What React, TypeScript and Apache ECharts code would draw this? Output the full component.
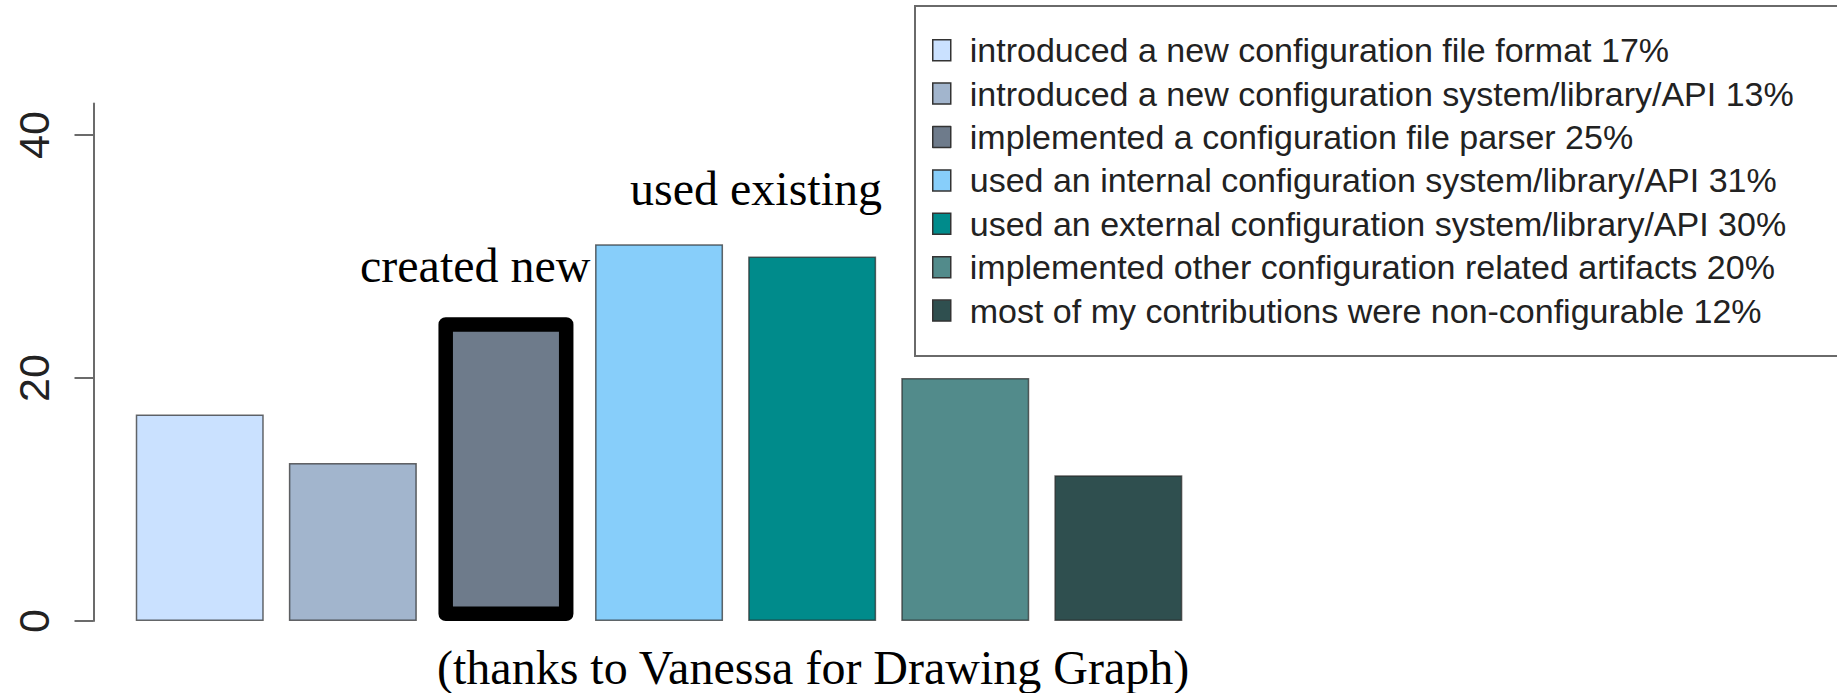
import React, { useEffect, useRef } from "react";
import * as echarts from "echarts";

const legendLabels = [
  "introduced a new configuration file format 17%",
  "introduced a new configuration system/library/API 13%",
  "implemented a configuration file parser 25%",
  "used an internal configuration system/library/API 31%",
  "used an external configuration system/library/API 30%",
  "implemented other configuration related artifacts 20%",
  "most of my contributions were non-configurable 12%",
];
const values = [17, 13, 25, 31, 30, 20, 12];
const colors = ["#CAE1FF", "#A2B5CD", "#6E7B8B", "#87CEFA", "#008B8B", "#528B8B", "#2F4F4F"];
const yTicks = [0, 20, 40];
const highlightIndex = 2;
const annotationTexts = ["created new", "used existing", "(thanks to Vanessa for Drawing Graph)"];

export default function App() {
  const ref = useRef<HTMLDivElement>(null);
  useEffect(() => {
    document.body.style.margin = "0";
    document.body.style.overflow = "hidden";
    const chart = echarts.init(ref.current!, undefined, { renderer: "svg" });
    const series = legendLabels.map((name, i) => {
      const hl = i === highlightIndex;
      return {
        type: "bar",
        name,
        stack: hl ? undefined : "all",
        xAxisIndex: hl ? 1 : 0,
        barWidth: hl ? 135 : 128,
        itemStyle: hl
          ? { color: colors[i], borderColor: "#000", borderWidth: 14.5, borderJoin: "round" }
          : { color: colors[i], borderColor: "rgba(40,40,40,0.7)", borderWidth: 1.5 },
        data: values.map((v, j) => (j === i ? v : null)),
      };
    });
    chart.setOption({
      animation: false,
      backgroundColor: "#fff",
      grid: { left: 123.2, width: 1071.7, top: 103.4, height: 517.6, outerBoundsMode: "none" },
      xAxis: [
        { type: "category", data: legendLabels, show: false },
        { type: "category", data: legendLabels, show: false },
      ],
      yAxis: {
        type: "value",
        min: 0,
        max: 42.6,
        interval: 20,
        offset: 29.7,
        splitLine: { show: false },
        axisLine: { show: true, lineStyle: { color: "#6b6b6b", width: 2 } },
        axisTick: { show: true, length: 19, lineStyle: { color: "#6b6b6b", width: 2 }, customValues: yTicks },
        axisLabel: {
          rotate: 90,
          fontSize: 43,
          fontFamily: "Liberation Sans",
          color: "#222",
          margin: 38,
          customValues: yTicks,
        },
      },
      legend: {
        orient: "vertical",
        left: 915,
        top: 6,
        padding: [27.2, 58, 28.5, 17],
        itemGap: 9.4,
        itemWidth: 18,
        itemHeight: 21,
        icon: "rect",
        selectedMode: false,
        borderColor: "#6a6a6a",
        borderWidth: 2,
        itemStyle: { borderColor: "#333", borderWidth: 1.5 },
        textStyle: {
          fontSize: 34,
          fontFamily: "Liberation Sans",
          color: "#222",
          lineHeight: 30,
          padding: [0, 0, 0, 14],
        },
        data: legendLabels,
      },
      graphic: [
        { type: "text", x: 360, y: 265, style: { text: annotationTexts[0], fontSize: 48, fontFamily: "Liberation Serif", fill: "#000", verticalAlign: "middle" } },
        { type: "text", x: 630, y: 188, style: { text: annotationTexts[1], fontSize: 48, fontFamily: "Liberation Serif", fill: "#000", verticalAlign: "middle" } },
        { type: "text", x: 437, y: 667, style: { text: annotationTexts[2], fontSize: 48, fontFamily: "Liberation Serif", fill: "#000", verticalAlign: "middle" } },
      ],
      series,
    });
    return () => chart.dispose();
  }, []);
  return <div ref={ref} style={{ width: 1837, height: 693 }} />;
}
